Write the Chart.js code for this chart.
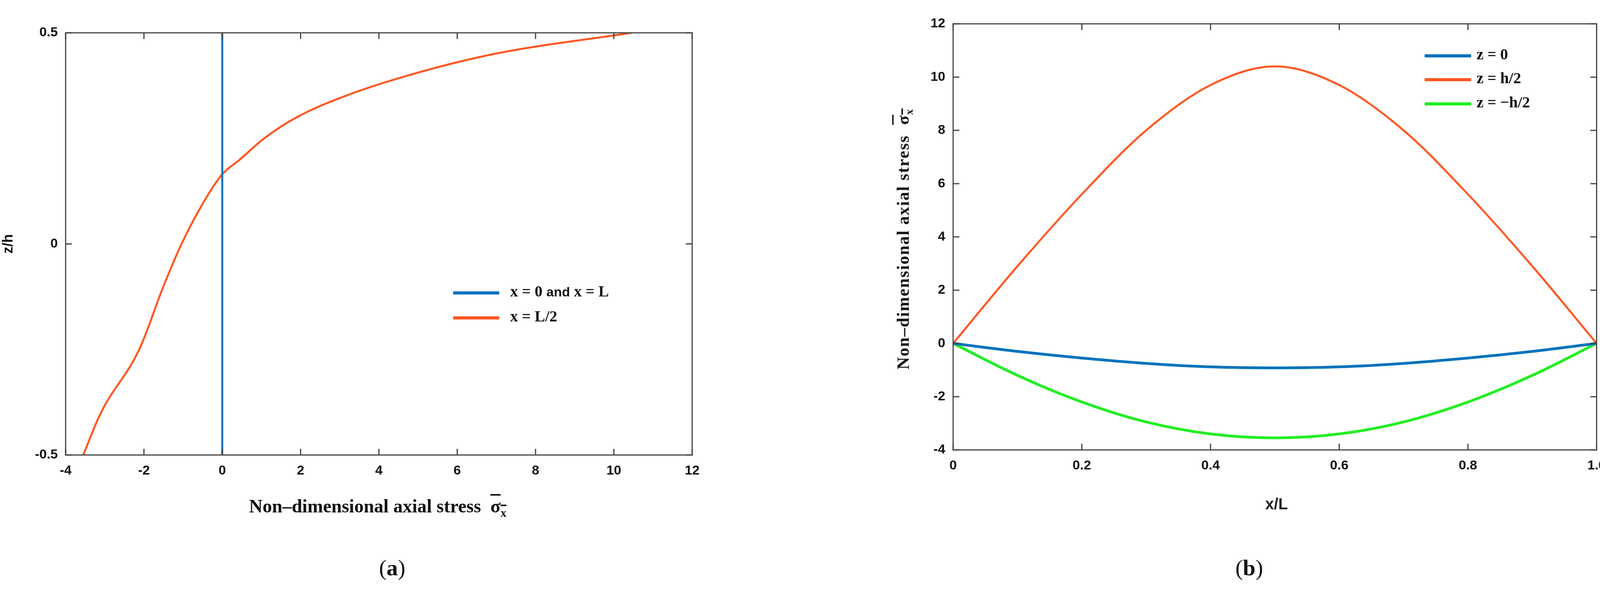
<!DOCTYPE html>
<html>
<head>
<meta charset="utf-8">
<script src="https://cdn.jsdelivr.net/npm/chart.js"></script>
<style>
  body { margin: 0; width: 4123px; height: 1526px; background: #fff; position: relative; overflow: hidden; }
  .abs { position: absolute; }
  .serif { font-family: "Liberation Serif", "DejaVu Serif", serif; font-weight: bold; color: #111; }
  .ov { text-decoration: overline; }
  .leg { position: absolute; font-family: "Liberation Serif", serif; font-weight: bold; font-size: 40px; color: #111; white-space: nowrap; }
  .leg i { display: inline-block; height: 8px; vertical-align: middle; margin-right: 28px; }
</style>
</head>
<body>
<div class="abs" style="left:0;top:0;width:1850px;height:1300px"><canvas id="a"></canvas></div>
<div class="abs" style="left:2260px;top:0;width:1863px;height:1300px"><canvas id="b"></canvas></div>

<div class="abs serif" style="left:967px;top:1268px;transform:translateX(-50%);font-size:48px;white-space:nowrap">Non–dimensional axial stress &nbsp;<span class="ov">σ<sub style="font-size:30px">x</sub></span></div>
<div class="abs serif" style="left:2315px;top:612px;transform:translate(-50%,-50%) rotate(-90deg);font-size:44px;white-space:nowrap;letter-spacing:2px">Non–dimensional axial stress &nbsp;<span class="ov">σ<sub style="font-size:28px">x</sub></span></div>
<div class="abs" style="left:3268px;top:1268px;transform:translateX(-50%);font:bold 40px Arial, 'Liberation Sans';color:#222">x/L</div>
<div class="abs serif" style="left:1004px;top:1420px;transform:translateX(-50%);font-size:58px;font-weight:normal">(<b>a</b>)</div>
<div class="abs serif" style="left:3198px;top:1420px;transform:translateX(-50%);font-size:58px;font-weight:normal">(<b>b</b>)</div>

<div class="leg" style="left:1160px;top:722px"><i style="width:118px;background:#0072BD"></i>x = 0 <span style="font-family:'Liberation Sans';font-size:34px">and</span> x = L</div>
<div class="leg" style="left:1160px;top:786px"><i style="width:118px;background:#FF5722"></i>x = L/2</div>
<div class="leg" style="left:3647px;top:115px"><i style="width:119px;background:#0072BD;margin-right:14px"></i>z = 0</div>
<div class="leg" style="left:3647px;top:176px"><i style="width:119px;background:#FF5722;margin-right:14px"></i>z = h/2</div>
<div class="leg" style="left:3647px;top:238px"><i style="width:119px;background:#22EE22;margin-right:14px"></i>z = −h/2</div>

<script>
// (a) axial stress through thickness at x = L/2
const zA = [-0.5, -0.4, -0.25, -0.1, 0, 0.1, 0.165, 0.2, 0.25, 0.3, 0.35, 0.4, 0.45, 0.5];
const sigmaMid = [-3.55, -3.1, -2.12, -1.5, -1.04, -0.47, 0, 0.45, 1.07, 1.9, 3.13, 4.78, 6.95, 10.45];
const zEnds = [-0.5, 0.5];
const sigmaEnds = [0, 0];

// (b) axial stress along the length
const xL = [0, 0.1, 0.2, 0.3, 0.4, 0.5, 0.6, 0.7, 0.8, 0.9, 1];
const zMidVals = [0, -0.3, -0.55, -0.75, -0.88, -0.92, -0.88, -0.75, -0.55, -0.3, 0];
const zTopVals = [0, 2.9, 5.6, 8.0, 9.7, 10.4, 9.7, 8.0, 5.6, 2.9, 0];
const zBotVals = [0, -1.2, -2.2, -2.95, -3.4, -3.55, -3.4, -2.95, -2.2, -1.2, 0];

const pts = (xs, ys) => xs.map((x, i) => ({ x: x, y: ys[i] }));
const tickFont = { family: 'Arial, "Liberation Sans"', size: 34, weight: 'bold' };

// box around plot area with MATLAB-style inward ticks on all sides
const frame = {
  id: 'frame',
  afterDraw(c) {
    const { ctx, chartArea: a } = c;
    const len = 16;
    ctx.save();
    ctx.strokeStyle = '#444';
    ctx.lineWidth = 3;
    ctx.strokeRect(a.left, a.top, a.right - a.left, a.bottom - a.top);
    ctx.beginPath();
    c.scales.x.ticks.forEach(t => {
      const px = c.scales.x.getPixelForValue(t.value);
      ctx.moveTo(px, a.bottom); ctx.lineTo(px, a.bottom - len);
      ctx.moveTo(px, a.top); ctx.lineTo(px, a.top + len);
    });
    c.scales.y.ticks.forEach(t => {
      const py = c.scales.y.getPixelForValue(t.value);
      ctx.moveTo(a.left, py); ctx.lineTo(a.left + len, py);
      ctx.moveTo(a.right, py); ctx.lineTo(a.right - len, py);
    });
    ctx.stroke();
    ctx.restore();
  }
};

function axis(min, max, step, extra) {
  return Object.assign({
    type: 'linear', min: min, max: max,
    ticks: { stepSize: step, font: tickFont, color: '#111', padding: 12 },
    grid: { display: false },
    border: { display: false }
  }, extra);
}

new Chart(document.getElementById('a'), {
  type: 'scatter',
  data: {
    datasets: [
      { data: pts(sigmaEnds, zEnds), showLine: true, borderColor: '#0072BD', borderWidth: 5, pointRadius: 0 },
      { data: pts(sigmaMid, zA), showLine: true, borderColor: '#FF5722', borderWidth: 5, pointRadius: 0, cubicInterpolationMode: 'monotone' }
    ]
  },
  options: {
    responsive: true, maintainAspectRatio: false, animation: false,
    layout: { padding: { top: 84, right: 78 } },
    plugins: { legend: { display: false }, tooltip: { enabled: false } },
    scales: {
      x: axis(-4, 12, 2, { afterFit: s => { s.height = 135; } }),
      y: axis(-0.5, 0.5, 0.5, {
        afterFit: s => { s.width = 168; },
        title: { display: true, text: 'z/h', font: { family: 'Arial', size: 36, weight: 'bold' }, color: '#111', padding: 0 }
      })
    }
  },
  plugins: [frame]
});

new Chart(document.getElementById('b'), {
  type: 'scatter',
  data: {
    datasets: [
      { data: pts(xL, zMidVals), showLine: true, borderColor: '#0072BD', borderWidth: 7, pointRadius: 0, cubicInterpolationMode: 'monotone' },
      { data: pts(xL, zTopVals), showLine: true, borderColor: '#FF5722', borderWidth: 5, pointRadius: 0, cubicInterpolationMode: 'monotone' },
      { data: pts(xL, zBotVals), showLine: true, borderColor: '#22EE22', borderWidth: 7, pointRadius: 0, cubicInterpolationMode: 'monotone' }
    ]
  },
  options: {
    responsive: true, maintainAspectRatio: false, animation: false,
    layout: { padding: { top: 61, right: 34 } },
    plugins: { legend: { display: false }, tooltip: { enabled: false } },
    scales: {
      x: axis(0, 1, 0.2, { afterFit: s => { s.height = 148; } }),
      y: axis(-4, 12, 2, { afterFit: s => { s.width = 180; } })
    }
  },
  plugins: [frame]
});
</script>
</body>
</html>
